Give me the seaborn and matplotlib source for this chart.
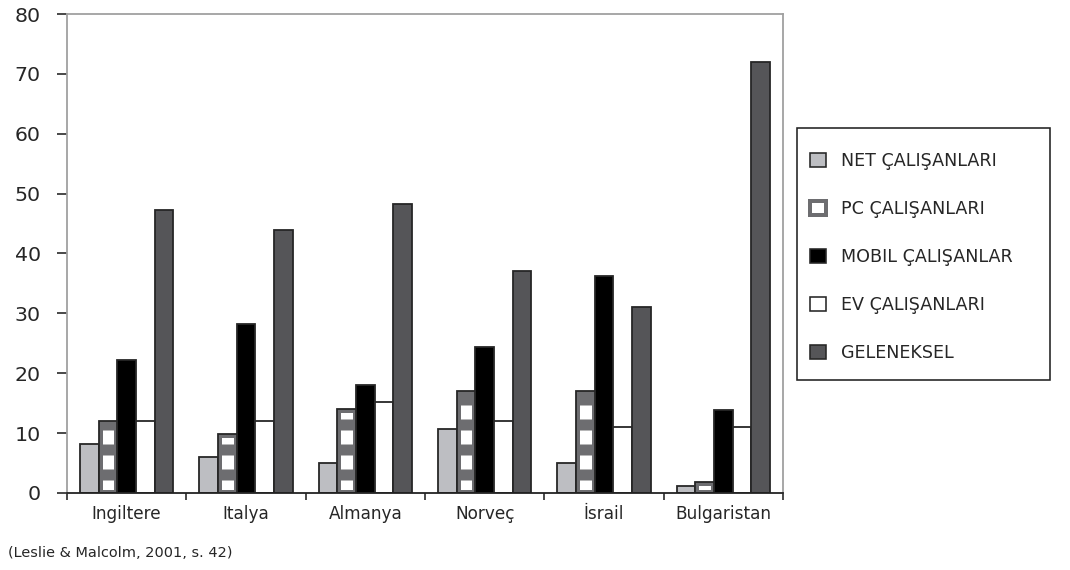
import matplotlib
matplotlib.use("Agg")
import matplotlib.pyplot as plt
import seaborn as sns
import pandas as pd
from matplotlib.patches import Rectangle, Patch

countries = ["Ingiltere", "Italya", "Almanya", "Norveç", "İsrail", "Bulgaristan"]
series = ["NET ÇALIŞANLARI", "PC ÇALIŞANLARI", "MOBIL ÇALIŞANLAR", "EV ÇALIŞANLARI", "GELENEKSEL"]
net = [8.2, 6.0, 5.0, 10.7, 5.0, 1.2]
pc = [12.0, 9.8, 14.0, 17.0, 17.0, 1.8]
mobil = [22.2, 28.2, 18.0, 24.4, 36.2, 13.9]
ev = [12.0, 12.0, 15.2, 12.0, 11.0, 11.0]
geleneksel = [47.2, 44.0, 48.3, 37.0, 31.0, 72.0]
y_ticks = [0, 10, 20, 30, 40, 50, 60, 70, 80]
caption = "(Leslie & Malcolm, 2001, s. 42)"

colors = ["#bdbec2", "#6d6d70", "#000000", "#ffffff", "#555558"]
edge = "#262626"

DPI = 150
W, H = 1070, 570


def pt(px):
    return px * 72.0 / DPI


rows = []
for s, vals in zip(series, [net, pc, mobil, ev, geleneksel]):
    for c, v in zip(countries, vals):
        rows.append({"country": c, "series": s, "value": v})
df = pd.DataFrame(rows)

sns.set_style("white")
plt.rcParams["font.family"] = ["DejaVu Sans"]
plt.rcParams["hatch.linewidth"] = pt(14)

fig = plt.figure(figsize=(W / DPI, H / DPI), dpi=DPI)
ax = fig.add_axes([67 / W, 77 / H, (783 - 67) / W, (493 - 14) / H])

sns.barplot(data=df, x="country", y="value", hue="series", order=countries,
            hue_order=series, palette=colors, width=0.78, gap=0,
            edgecolor=edge, linewidth=pt(1.8), saturation=1, ax=ax, legend=False)

# PC bars: gray with white bands
pc_patches = [p for p in ax.patches if abs(p.get_facecolor()[0] - 0x6d / 255) < 0.01]
for p in pc_patches:
    p.set_edgecolor("white")
    p.set_hatch("-")
    p.set_linewidth(0)
    x0, y0 = p.get_xy()
    w, h = p.get_width(), p.get_height()
    inner = Rectangle((x0, y0), w, h, facecolor="none", edgecolor=colors[1],
                      linewidth=pt(7), zorder=p.get_zorder() + 0.1)
    ax.add_patch(inner)
    inner.set_clip_path(p)
    outline = Rectangle((x0, y0), w, h, facecolor="none", edgecolor=edge,
                        linewidth=pt(1.8), zorder=p.get_zorder() + 0.2)
    ax.add_patch(outline)

ax.set_ylim(0, 80)
ax.set_xlim(-0.5, 5.5)
ax.set_yticks(y_ticks)
ax.set_yticklabels([str(t) for t in y_ticks], fontsize=pt(20.5))
ax.set_xticks(range(len(countries)))
ax.set_xticklabels(countries, fontsize=pt(16.9))
ax.set_xticks([i - 0.5 for i in range(len(countries) + 1)], minor=True)
ax.tick_params(axis="x", which="major", length=0, pad=pt(12), bottom=False)
ax.tick_params(axis="x", which="minor", length=pt(7), width=pt(1.6), color="#222222",
               direction="out", bottom=True)
ax.tick_params(axis="y", length=pt(10), width=pt(1.6), color="#222222",
               direction="out", pad=pt(16), left=True)
ax.set_xlabel("")
ax.set_ylabel("")

for side in ["left", "top", "right"]:
    ax.spines[side].set_color("#a0a0a0")
    ax.spines[side].set_linewidth(pt(1.8))
    ax.spines[side].set_visible(True)
ax.spines["bottom"].set_color("#222222")
ax.spines["bottom"].set_linewidth(pt(1.8))

handles = []
for s, c in zip(series, colors):
    if s == series[1]:
        handles.append(Patch(facecolor="white", edgecolor=colors[1], linewidth=pt(4), label=s))
    else:
        handles.append(Patch(facecolor=c, edgecolor=edge, linewidth=pt(1.6), label=s))
leg_fs_px = 17.5
leg = fig.legend(handles=handles, loc="center left",
                 bbox_to_anchor=(810 / W, 1 - 257 / H), frameon=False,
                 fontsize=pt(leg_fs_px), labelspacing=(50 - 20) / leg_fs_px,
                 handlelength=16 / leg_fs_px, handleheight=16 / leg_fs_px,
                 handletextpad=15 / leg_fs_px, borderpad=0, borderaxespad=0)
box = Rectangle((797 / W, 1 - 380 / H), (1050 - 797) / W, (380 - 128) / H,
                transform=fig.transFigure, facecolor="none", edgecolor="#222222",
                linewidth=pt(1.6))
fig.add_artist(box)

fig.text(8 / W, 1 - 553 / H, caption, fontsize=pt(14.5), va="center", ha="left")

fig.savefig("out.png", dpi=DPI)
